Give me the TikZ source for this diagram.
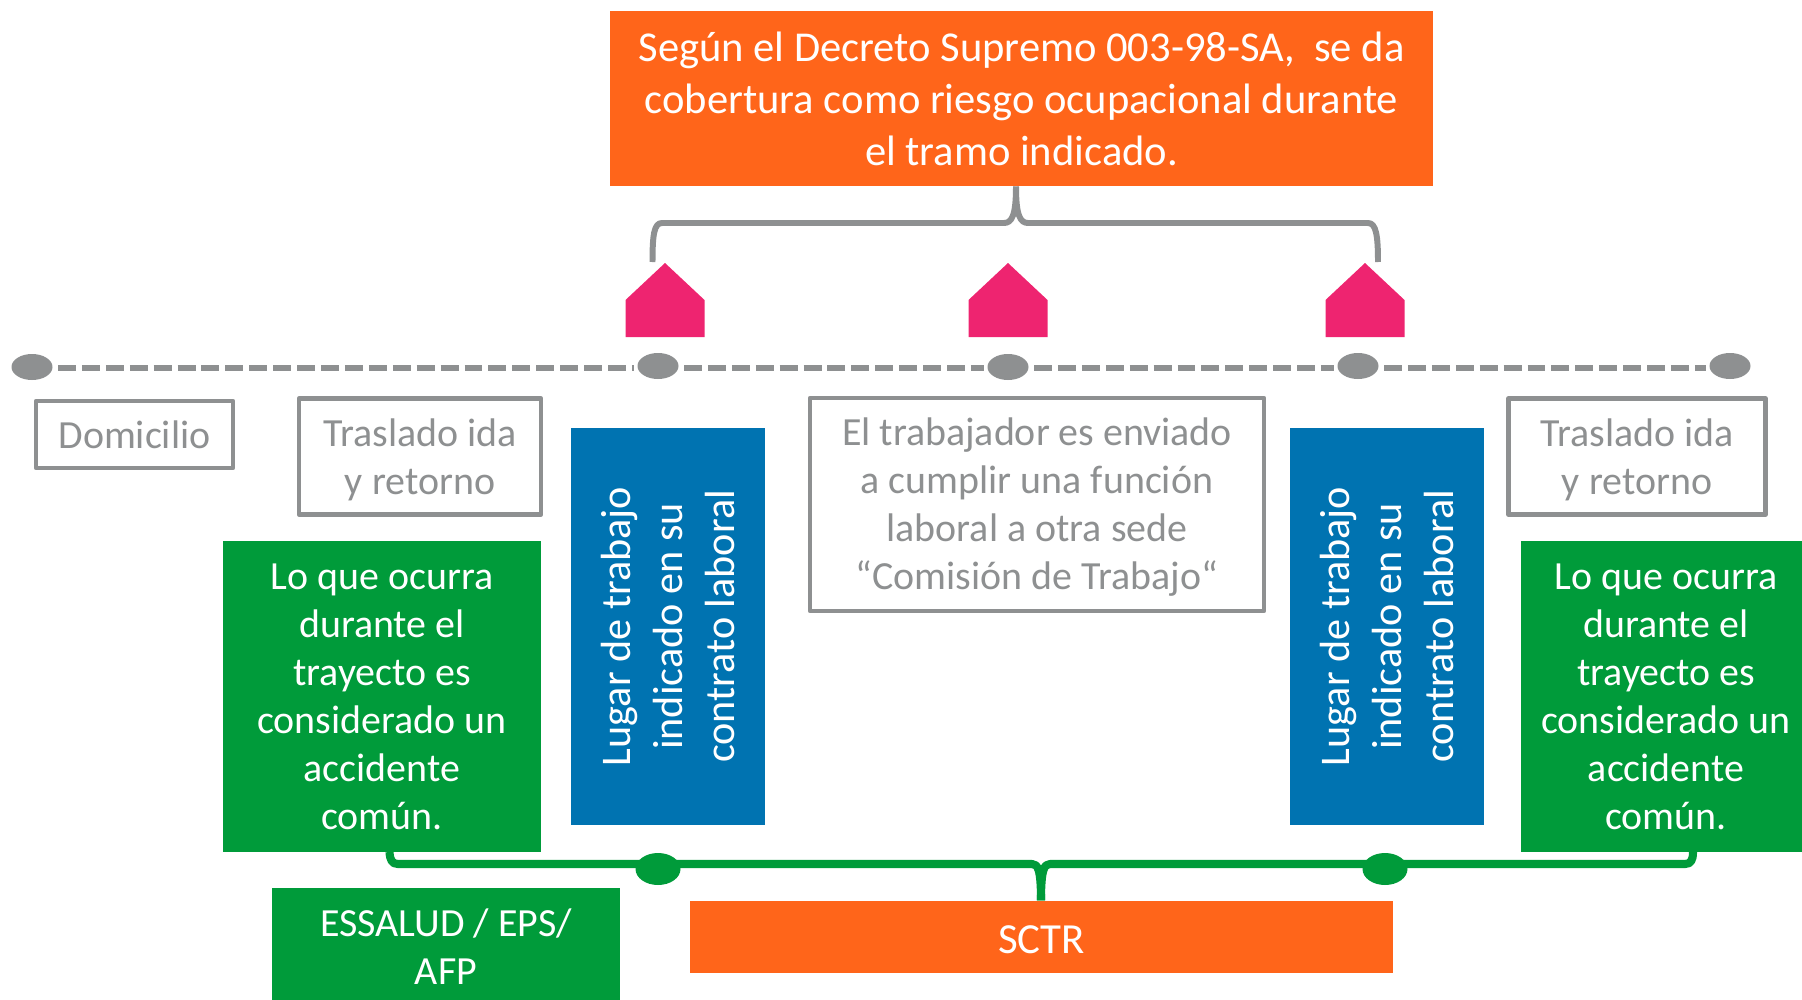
\documentclass[tikz,border=0pt]{standalone}
\usepackage{fontspec}
\setmainfont{Carlito}
\usetikzlibrary{positioning}
\definecolor{naranja}{RGB}{255,101,26}
\definecolor{verde}{RGB}{0,155,58}
\definecolor{azul}{RGB}{0,115,177}
\definecolor{gris}{RGB}{142,144,145}
\definecolor{rosa}{RGB}{238,36,112}
\newcommand{\alto}{\rule{0pt}{9.6pt}}
\tikzset{
  caja/.style={inner sep=0pt,align=center,text=white,font=\fontsize{11.35}{13.65}\selectfont},
  cajagris/.style={caja,draw=gris,line width=1.2pt,fill=white,text=gris},
  casa/.style={fill=rosa,draw=none},
  tramo/.style={gris,line width=1.8pt,dash pattern=on 5.1pt off 1.7pt},
  llave/.style={gris,line width=1.7pt},
  llaveverde/.style={verde,line width=2.3pt}
}
\begin{document}
\begin{tikzpicture}[line cap=butt,line join=round,x=0.01cm,y=-0.01cm]
\useasboundingbox (0,0) rectangle (1802,1000);
% recuadros
\node[caja,fill=naranja,minimum width=8.23cm,minimum height=1.745cm,font=\fontsize{12.1}{14.8}\selectfont] (tope) at (1021.5,98.5) {Según el Decreto Supremo 003-98-SA,~ se da\\cobertura como riesgo ocupacional durante\\el tramo indicado.};
\node[cajagris,minimum width=1.97cm,minimum height=0.67cm] (domicilio) at (134.5,434.5) {Domicilio};
\node[cajagris,minimum width=2.42cm,minimum height=1.16cm] (trasladoA) at (420,456.5) {\alto Traslado ida\\y retorno};
\node[cajagris,minimum width=2.57cm,minimum height=1.16cm] (trasladoB) at (1637,456.5) {\alto Traslado ida\\y retorno};
\node[cajagris,minimum width=4.54cm,minimum height=2.13cm] (comision) at (1037,504.5) {\alto El trabajador es enviado\\a cumplir una función\\laboral a otra sede\\“Comisión de Trabajo“};
\node[caja,fill=verde,minimum width=3.18cm,minimum height=3.11cm] (comunA) at (382,696.5) {\rule{0pt}{7.7pt}Lo que ocurra\\durante el\\trayecto es\\considerado un\\accidente\\común.};
\node[caja,fill=verde,minimum width=2.81cm,minimum height=3.11cm] (comunB) at (1661.5,696.5) {};
\node[caja] (comunBtexto) at ([xshift=0.045cm]comunB.center) {\rule{0pt}{7.7pt}Lo que ocurra\\durante el\\trayecto es\\considerado un\\accidente\\común.};
\node[caja,fill=azul,rotate=90,minimum width=3.97cm,minimum height=1.94cm,font=\fontsize{12}{14.8}\selectfont] (lugarA) at (668,626.5) {Lugar de trabajo\\indicado en su\\contrato laboral};
\node[caja,fill=azul,rotate=90,minimum width=3.97cm,minimum height=1.94cm,font=\fontsize{12}{14.8}\selectfont] (lugarB) at (1387,626.5) {Lugar de trabajo\\indicado en su\\contrato laboral};
\node[caja,fill=verde,minimum width=3.48cm,minimum height=1.12cm] (essalud) at (446,944) {\rule{0pt}{9.3pt}ESSALUD / EPS/\\AFP};
\node[caja,fill=naranja,minimum width=7.03cm,minimum height=0.72cm,font=\fontsize{12.2}{14}\selectfont] (sctr) at (1041.5,937) {\rule{0pt}{9.6pt}SCTR};
% casas
\foreach \x/\nombre in {665/casaA,1008/casaB,1365/casaC}
\fill[casa,shift={(\x,0)}] (-39.5,337) -- (-39.5,300) -- (0,263) -- (39.5,300) -- (39.5,337) -- cycle coordinate (\nombre);
% linea de tiempo
\foreach \x/\y/\nombre in {32/367/dotA,658/366/dotB,1008/367/dotC,1358/366/dotD,1730/366/dotE}
\fill[gris] (\x,\y) ellipse (20.5 and 13) coordinate (\nombre);
\foreach \a/\b in {dotA/dotB,dotB/dotC,dotC/dotD,dotD/dotE}
\draw[tramo] ([xshift=0.26cm]\a|-0,368) -- ([xshift=-0.24cm]\b|-0,368);
% llave gris
\coordinate (llaveA) at (652.5,262);
\coordinate (llaveB) at (1378,262);
\coordinate (llaveC) at (1016,223);
\draw[llave] (llaveA) .. controls (652.5,235) and (654,223) .. (662,223) -- (1004,223) .. controls (1012,223) and (1016,215) .. (tope.south -| llaveC);
\draw[llave] (llaveB) .. controls (1378,235) and (1376,223) .. (1368,223) -- (1028,223) .. controls (1020,223) and (1016,215) .. (tope.south -| llaveC);
% llave verde
\coordinate (verdeA) at (389.5,852);
\coordinate (verdeB) at (1693,852);
\coordinate (verdeC) at (1041,864);
\draw[llaveverde] (verdeA) .. controls (390,860) and (392,864) .. (398,864) -- (1032,864) .. controls (1038,864) and (1041,870) .. (sctr.north -| verdeC);
\draw[llaveverde] (verdeB) .. controls (1693,860) and (1691,864) .. (1685,864) -- (1050,864) .. controls (1044,864) and (1041,870) .. (sctr.north -| verdeC);
\fill[verde] (658,869) ellipse (22.5 and 16) coordinate (dotF);
\fill[verde] (1385,869) ellipse (22.5 and 16) coordinate (dotG);
\end{tikzpicture}
\end{document}
